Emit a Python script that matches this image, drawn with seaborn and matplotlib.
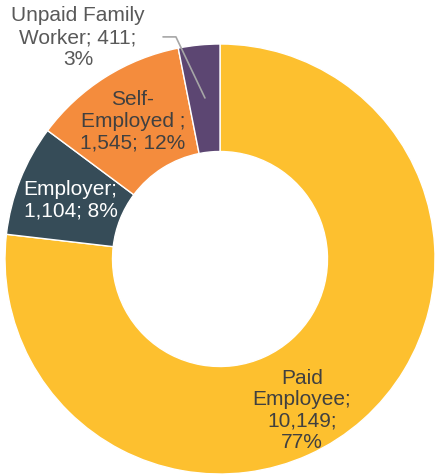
import matplotlib
matplotlib.use("Agg")
import matplotlib.pyplot as plt
import seaborn as sns

# data
categories = ["Paid Employee", "Employer", "Self-Employed", "Unpaid Family Worker"]
counts = [10149, 1104, 1545, 411]
shares = [77, 8, 12, 3]
label_text = [
    "Paid\nEmployee;\n10,149;\n77%",
    "Employer;\n1,104; 8%",
    "Self-\nEmployed ;\n1,545; 12%",
    "Unpaid Family\nWorker; 411;\n3%",
]

sns.set_theme(style="white")
plt.rcParams["font.family"] = ["Liberation Sans", "DejaVu Sans"]

colors = sns.color_palette(["#FDC02F", "#364C58", "#F48C3D", "#5C4672"])

fig = plt.figure(figsize=(4.36, 4.75), dpi=100)
ax = fig.add_axes([5 / 436, 1 / 475, 430 / 436, 430 / 475])
ax.pie(counts, colors=colors, startangle=90, counterclock=False,
       radius=1.0, wedgeprops=dict(width=0.5, edgecolor="white", linewidth=1))
ax.set_xlim(-1, 1)
ax.set_ylim(-1, 1)
ax.set_aspect("equal")
ax.axis("off")

# label placement (layout only)
pos = [(0.38, -0.705), (-0.695, 0.274), (-0.405, 0.64), (-0.66, 1.03)]
text_colors = ["#404040", "white", "#404040", "#595959"]
for txt, (x, y), c in zip(label_text, pos, text_colors):
    ax.text(x, y, txt, ha="center", va="center", fontsize=15, color=c,
            linespacing=1.17, clip_on=False)

# leader line for the small slice
ax.plot([-0.265, -0.205, -0.07], [1.033, 1.033, 0.749], color="#A6A6A6",
        lw=1.2, clip_on=False)

fig.savefig("out.png", dpi=100)
